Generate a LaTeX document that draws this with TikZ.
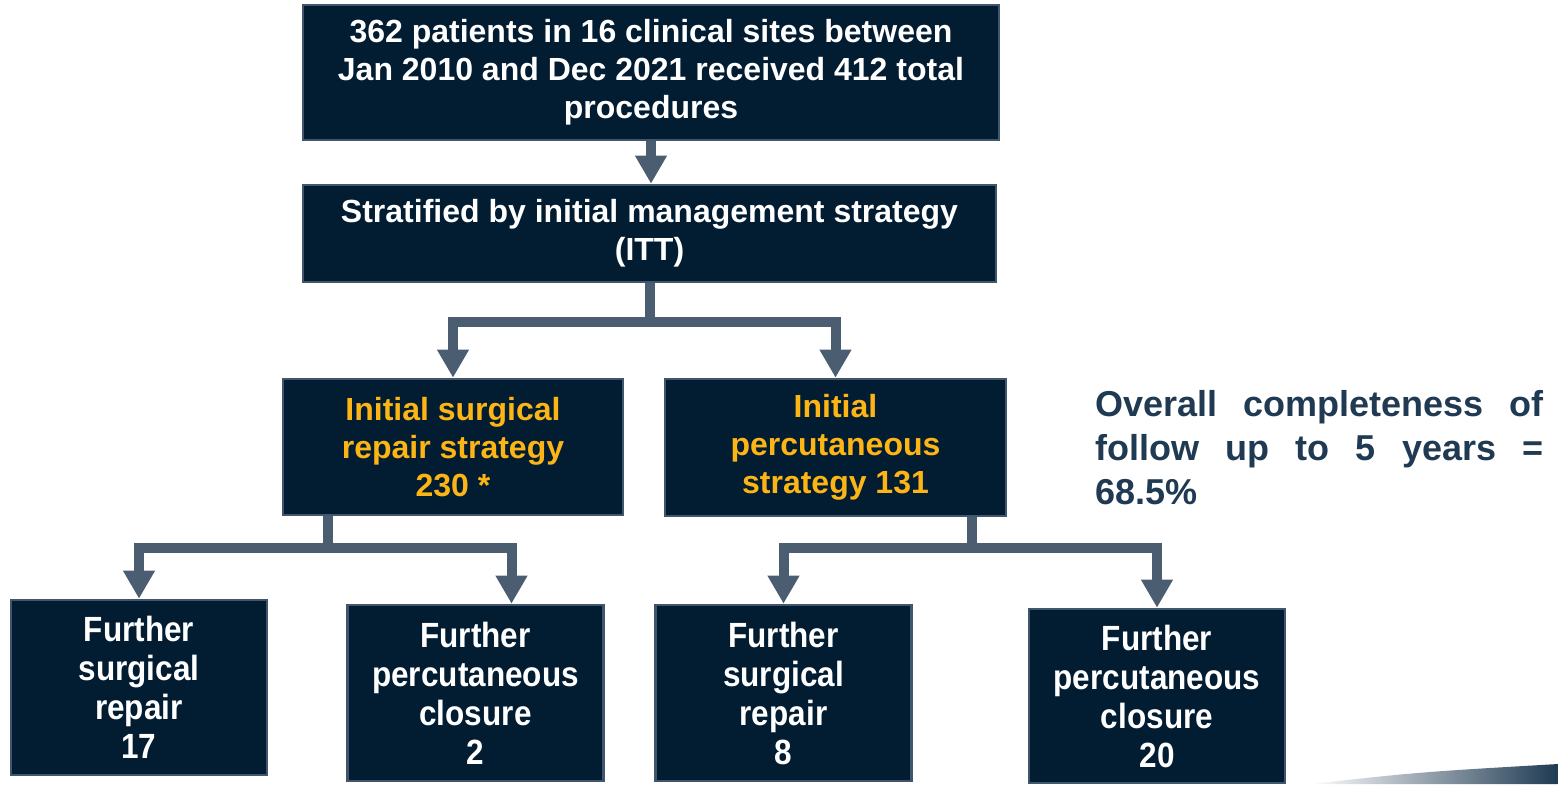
\documentclass[tikz,border=0pt]{standalone}
\usepackage{fontspec}
\setmainfont{Liberation Sans}
\newfontfamily\narrowsf[FakeStretch=0.9]{Liberation Sans}
\usetikzlibrary{arrows.meta}
\definecolor{navy}{HTML}{021C32}
\definecolor{rim}{HTML}{41566C}
\definecolor{steel}{HTML}{4B5E71}
\definecolor{ink}{HTML}{1F3A52}
\definecolor{gold}{HTML}{FDB515}
\setlength{\parindent}{0pt}

\tikzset{
  box/.style={draw=rim,fill=navy,line width=1.3pt,inner sep=0pt,align=center,
    text=white,font=\fontsize{16}{19}\selectfont\bfseries},
  leaf/.style={box,minimum width=128pt,minimum height=87.5pt,
    font=\narrowsf\fontsize{17.5}{19.5}\selectfont\bfseries},
  link/.style={draw=steel,line width=5pt},
  flow/.style={link,-{Triangle[width=15pt,length=14pt]}},
}

\begin{document}
\begin{tikzpicture}[x=0.5pt,y=-0.5pt]
  \useasboundingbox (0,0) rectangle (1558,784);
  %
  \coordinate (j1) at (649.5,322);
  \coordinate (j2) at (328,548);
  \coordinate (j3) at (972,548);
  % cohort and strata
  \node[box,minimum width=348pt,minimum height=67.5pt] (cohort) at (651,72.5)
    {362 patients in 16 clinical sites between\\Jan 2010 and Dec 2021 received 412 total\\procedures};
  \node[box,minimum width=346.5pt,minimum height=48.5pt] (strat) at (649.5,233.5)
    {Stratified by initial management strategy\\(ITT)};
  \node[box,text=gold,minimum width=170pt,minimum height=68pt] (surg) at (453,447)
    {Initial surgical\\repair strategy\\230 *};
  \node[box,text=gold,minimum width=170.5pt,minimum height=68.5pt] (perc) at (835.5,447.5)
    {Initial\\percutaneous\\strategy 131};
  % further procedures
  \node[leaf] (fsurgA) at (139,687.5) {Further\\surgical\\repair\\17};
  \node[leaf,minimum height=88pt] (fpercA) at (475.5,693) {Further\\percutaneous\\closure\\2};
  \node[leaf,minimum height=88pt] (fsurgB) at (783.5,693) {Further\\surgical\\repair\\8};
  \node[leaf,minimum height=87pt] (fpercB) at (1157,696) {Further\\percutaneous\\closure\\20};
  % follow up note
  \node[anchor=north west,inner sep=0pt,text=ink,text width=224pt,align=justify,
    font=\fontsize{18}{22}\selectfont\bfseries] (note) at (1095,390)
    {Overall completeness of\linebreak follow up to 5 years =\linebreak 68.5\%};
  % arrows
  \draw[flow] (cohort.south) -- (cohort.south |- strat.north);
  \draw[link] (strat.south) -- (j1);
  \draw[flow] (j1) -| (surg.north);
  \draw[flow] (j1) -| (perc.north);
  \draw[link] (surg.south -| j2) -- (j2);
  \draw[flow] (j2) -| (fsurgA.north);
  \draw[flow] (j2) -| ([xshift=18pt]fpercA.north);
  \draw[link] (perc.south -| j3) -- (j3);
  \draw[flow] (j3) -| (fsurgB.north);
  \draw[flow] (j3) -| (fpercB.north);
  % corner swoosh
  \shade[left color=white,right color=ink] (1310,784) .. controls (1420,772) .. (1558,764) -- (1558,784) -- cycle;
\end{tikzpicture}
\end{document}
